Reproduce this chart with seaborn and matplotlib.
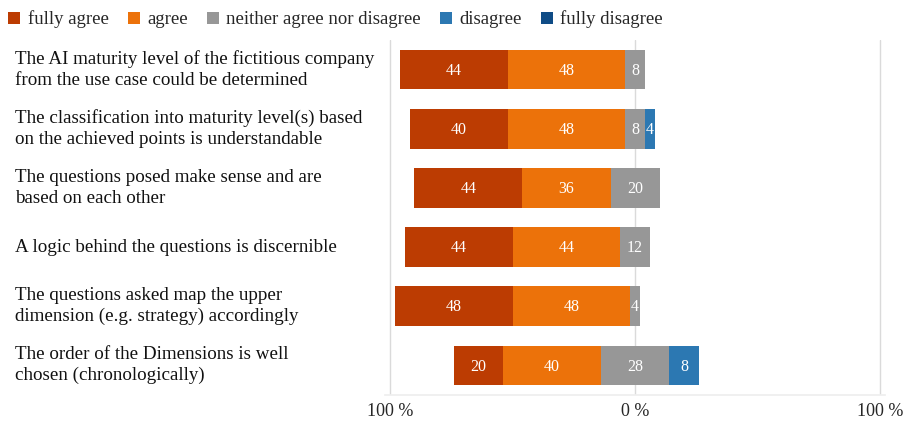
import matplotlib
matplotlib.use("Agg")
import matplotlib.pyplot as plt
from matplotlib.lines import Line2D
import matplotlib.transforms as mtransforms
import numpy as np
import seaborn as sns

# Dados (percentuais por afirmação)
afirmacoes = [
    "The AI maturity level of the fictitious company\nfrom the use case could be determined",
    "The classification into maturity level(s) based\non the achieved points is understandable",
    "The questions posed make sense and are\nbased on each other",
    "A logic behind the questions is discernible",
    "The questions asked map the upper\ndimension (e.g. strategy) accordingly",
    "The order of the Dimensions is well\nchosen (chronologically)",
]
fully_agree = [44, 40, 44, 44, 48, 20]
agree = [48, 48, 36, 44, 48, 40]
neither = [8, 8, 20, 12, 4, 28]
disagree = [0, 4, 0, 0, 0, 12]          # largura
disagree_labels = ["", "4", "", "", "", "8"]  # rótulos como impressos
fully_disagree = [0, 0, 0, 0, 0, 0]

categorias = ["fully agree", "agree", "neither agree nor disagree", "disagree", "fully disagree"]
cores = ["#BC3C02", "#EC720A", "#979797", "#2C78B2", "#0F4C86"]

sns.set_theme(style="white")
plt.rcParams["font.family"] = ["Liberation Serif", "DejaVu Serif"]

fa = np.array(fully_agree, dtype=float)
ag = np.array(agree, dtype=float)
ne = np.array(neither, dtype=float)
di = np.array(disagree, dtype=float)
fd = np.array(fully_disagree, dtype=float)

fig = plt.figure(figsize=(9.06, 4.21), dpi=100)
ax = fig.add_axes([0.425, 0.062, 0.552, 0.843])

for xv in [-100, 0, 100]:
    ax.axvline(xv, color="#DADADA", lw=1, zorder=0)

largura = 0.67
# camadas cumulativas: das mais externas para as internas
camadas = [
    (-(fa + ag + ne / 2), cores[0]),
    (-(ag + ne / 2), cores[1]),
    (-(ne / 2), cores[2]),
    (ne / 2 + di + fd, cores[4]),
    (ne / 2 + di, cores[3]),
    (ne / 2, cores[2]),
]
for vals, cor in camadas:
    sns.barplot(x=vals, y=afirmacoes, order=afirmacoes, orient="h", color=cor,
                saturation=1, width=largura, linewidth=0, ax=ax, zorder=2)

# rótulos dos segmentos
for i in range(len(afirmacoes)):
    segs = [
        (-(fa[i] + ag[i] + ne[i] / 2) + fa[i] / 2, str(fully_agree[i]) if fa[i] else ""),
        (-(ag[i] + ne[i] / 2) + ag[i] / 2, str(agree[i]) if ag[i] else ""),
        (0, str(neither[i]) if ne[i] else ""),
        (ne[i] / 2 + di[i] / 2, disagree_labels[i] if di[i] else ""),
        (ne[i] / 2 + di[i] + fd[i] / 2, str(fully_disagree[i]) if fd[i] else ""),
    ]
    for xc, txt in segs:
        if txt:
            ax.text(xc, i + 0.02, txt, color="white", ha="center", va="center",
                    fontsize=11.5, zorder=5)

ax.set_xlim(-102, 102)
ax.set_ylim(len(afirmacoes) - 0.5, -0.5)
ax.set_yticks([])
ax.set_ylabel("")
ax.set_xticks([-100, 0, 100])
ax.set_xticklabels(["100 %", "0 %", "100 %"], fontsize=13)
ax.tick_params(axis="x", length=0, pad=6)
for s in ["top", "left", "right"]:
    ax.spines[s].set_visible(False)
ax.spines["bottom"].set_color("#EEEEEE")

# rótulos das afirmações, alinhados à esquerda
trans = mtransforms.blended_transform_factory(fig.transFigure, ax.transData)
for i, txt in enumerate(afirmacoes):
    ax.text(15 / 906, i, txt, transform=trans, ha="left", va="center",
            fontsize=13.7, color="#111111", linespacing=1.3)

handles = [Line2D([0], [0], marker="s", color="w", markerfacecolor=c,
                  markeredgewidth=0, markersize=8) for c in cores]
fig.legend(handles, categorias, loc="upper left", bbox_to_anchor=(-0.012, 1.015),
           ncol=5, frameon=False, fontsize=13.5, handlelength=0.9,
           handletextpad=0.25, columnspacing=0.9)

plt.savefig("out.png", dpi=100)
plt.close()
